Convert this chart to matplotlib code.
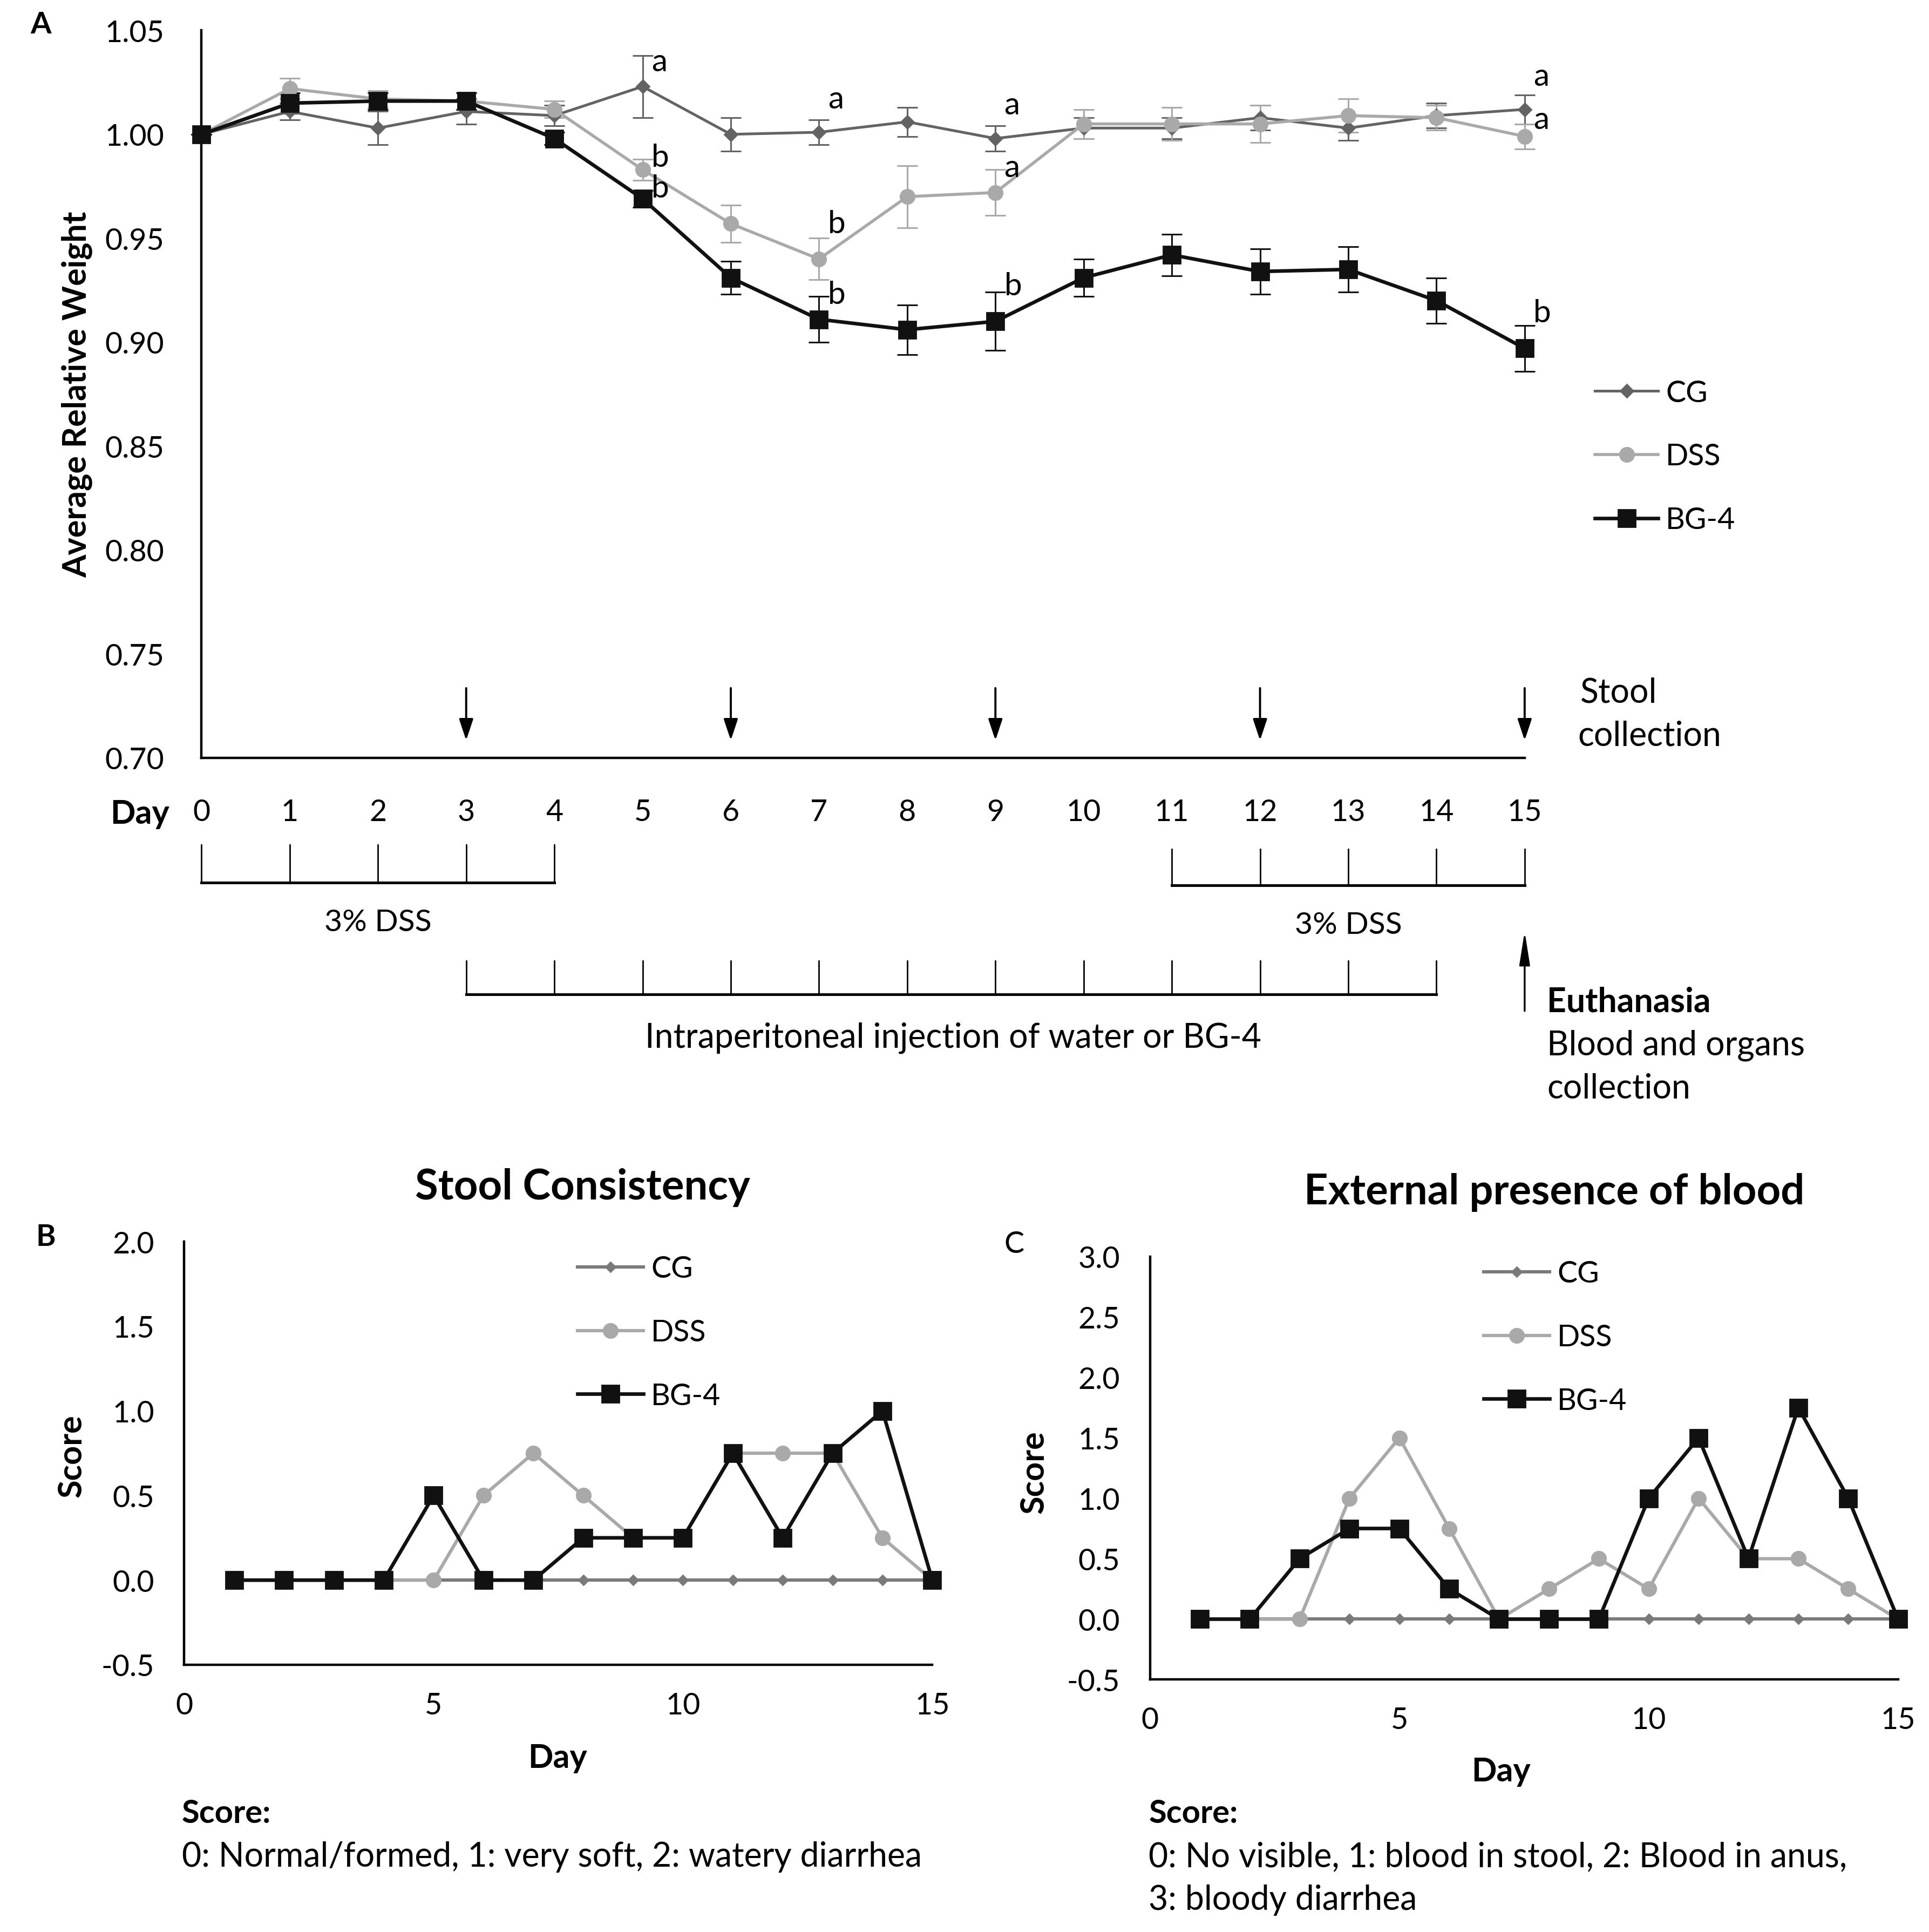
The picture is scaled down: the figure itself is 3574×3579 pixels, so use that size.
import matplotlib
matplotlib.use("Agg")
import matplotlib.pyplot as plt

plt.rcParams['font.family'] = ['Lato', 'DejaVu Sans']

# ---- panel A: average relative weight, days 0-15 ----
days_a = list(range(16))
cg_w = [1.000, 1.011, 1.003, 1.011, 1.009, 1.023, 1.000, 1.001, 1.006, 0.998, 1.003, 1.003, 1.008, 1.003, 1.009, 1.012]
cg_err = [0.0, 0.004, 0.008, 0.006, 0.005, 0.015, 0.008, 0.006, 0.007, 0.006, 0.005, 0.005, 0.006, 0.006, 0.006, 0.007]
dss_w = [1.000, 1.022, 1.017, 1.016, 1.012, 0.983, 0.957, 0.940, 0.970, 0.972, 1.005, 1.005, 1.005, 1.009, 1.008, 0.999]
dss_err = [0.0, 0.005, 0.004, 0.004, 0.004, 0.005, 0.009, 0.010, 0.015, 0.011, 0.007, 0.008, 0.009, 0.008, 0.006, 0.006]
bg4_w = [1.000, 1.015, 1.016, 1.016, 0.998, 0.969, 0.931, 0.911, 0.906, 0.910, 0.931, 0.942, 0.934, 0.935, 0.920, 0.897]
bg4_err = [0.0, 0.005, 0.004, 0.004, 0.003, 0.004, 0.008, 0.011, 0.012, 0.014, 0.009, 0.010, 0.011, 0.011, 0.011, 0.011]
# significance letters: (day, group, letter)
sig_days = [5, 5, 5, 7, 7, 7, 9, 9, 9, 15, 15, 15]
sig_groups = ["CG", "DSS", "BG-4"] * 4
sig_letters = ["a", "b", "b", "a", "b", "b", "a", "a", "b", "a", "a", "b"]
stool_days = [3, 6, 9, 12, 15]
dss_period1 = [0, 1, 2, 3, 4]
dss_period2 = [11, 12, 13, 14, 15]
inj_days = [3, 4, 5, 6, 7, 8, 9, 10, 11, 12, 13, 14]
euth_day = 15

# ---- panels B and C: scores, days 1-15 ----
days_bc = list(range(1, 16))
stool_cg = [0, 0, 0, 0, 0, 0, 0, 0, 0, 0, 0, 0, 0, 0, 0]
stool_dss = [0, 0, 0, 0, 0, 0.5, 0.75, 0.5, 0.25, 0.25, 0.75, 0.75, 0.75, 0.25, 0]
stool_bg4 = [0, 0, 0, 0, 0.5, 0, 0, 0.25, 0.25, 0.25, 0.75, 0.25, 0.75, 1.0, 0]
blood_cg = [0, 0, 0, 0, 0, 0, 0, 0, 0, 0, 0, 0, 0, 0, 0]
blood_dss = [0, 0, 0, 1.0, 1.5, 0.75, 0, 0.25, 0.5, 0.25, 1.0, 0.5, 0.5, 0.25, 0]
blood_bg4 = [0, 0, 0.5, 0.75, 0.75, 0.25, 0, 0, 0, 1.0, 1.5, 0.5, 1.75, 1.0, 0]

C_CG, C_DSS, C_BG = "#636363", "#a9a9a9", "#111111"
FS = 20      # ticks / legends
FA = 22.5    # annotation text

fig = plt.figure(figsize=(17.87, 17.90), dpi=200)
W, H = 1560.0, 1562.0
def fpos(x, y): return (x / W, 1 - y / H)
def rect(x0, y0, x1, y1): return [x0 / W, 1 - y1 / H, (x1 - x0) / W, (y1 - y0) / H]

def style(ax):
    for s in ("top", "right"): ax.spines[s].set_visible(False)
    for s in ("left", "bottom"): ax.spines[s].set_linewidth(1.6)
    ax.tick_params(length=0, labelsize=FS)

def ftext(x, y, s, **kw):
    kw.setdefault("ha", "left"); kw.setdefault("va", "center")
    fig.text(*fpos(x, y), s, **kw)

# ================= A =================
axA = fig.add_axes(rect(163, 25, 1233, 613))
style(axA)
axA.set_xlim(0, 15); axA.set_ylim(0.70, 1.05)
axA.set_yticks([0.70, 0.75, 0.80, 0.85, 0.90, 0.95, 1.00, 1.05])
axA.set_yticklabels([f"{v:.2f}" for v in axA.get_yticks()])
axA.tick_params(axis="y", pad=25)
axA.set_xticks(days_a); axA.tick_params(axis="x", pad=27)

series_a = {"CG": (cg_w, cg_err, C_CG, "D", 6, 1.8),
            "DSS": (dss_w, dss_err, C_DSS, "o", 9.5, 2.0),
            "BG-4": (bg4_w, bg4_err, C_BG, "s", 11.5, 2.4)}
handles = []
for name, (v, e, c, m, ms, lw) in series_a.items():
    eb = axA.errorbar(days_a, v, yerr=e, fmt="none", ecolor=c, elinewidth=1.1, capsize=7, capthick=1.1)
    for a in eb.get_children(): a.set_clip_on(False)
    ln, = axA.plot(days_a, v, color=c, marker=m, ms=ms, lw=lw, clip_on=False, zorder=3)
    handles.append(ln)
axA.legend(handles, list(series_a), loc="upper left", bbox_to_anchor=fpos(1290, 307),
           bbox_transform=fig.transFigure, frameon=False, fontsize=FS, handlelength=2.1,
           handletextpad=0.25, labelspacing=1.2, borderpad=0, borderaxespad=0, numpoints=1)

# letters sit just right of the upper error-bar cap (small extra lift where the original does)
lift = [-0.003, 0.001, 0.001, 0.010, 0.007, 0.001, 0.010, 0.001, 0.003, 0.009, 0.002, 0.006]
for d, g, letter, dy in zip(sig_days, sig_groups, sig_letters, lift):
    v, e = series_a[g][0][d], series_a[g][1][d]
    axA.text(d + 0.1, v + e + dy, letter, fontsize=21, va="center", ha="left")

for d in stool_days:
    axA.annotate("", xy=(d, 0.707), xytext=(d, 0.735), annotation_clip=False,
                 arrowprops=dict(arrowstyle="-|>,head_width=0.4,head_length=1.2", color="black",
                                 lw=1.4, mutation_scale=10))
ftext(1278, 560, "Stool", fontsize=FA)
ftext(1276, 595, "collection", fontsize=FA)
ftext(113, 658, "Day", fontsize=22, fontweight="bold", ha="center")

def bracket(days, top, bot):
    axA.plot([days[0], days[-1]], [bot, bot], color="black", lw=1.8, clip_on=False)
    for d in days:
        axA.plot([d, d], [top, bot], color="black", lw=1.0, clip_on=False)

bracket(dss_period1, 0.6583, 0.6399)
bracket(dss_period2, 0.6560, 0.6387)
bracket(inj_days, 0.6024, 0.5863)
axA.text(sum(dss_period1) / len(dss_period1), 0.6208, "3% DSS", fontsize=20.5, ha="center", va="center")
axA.text(sum(dss_period2[1:4]) / 3, 0.6196, "3% DSS", fontsize=20.5, ha="center", va="center")
axA.text(8.52, 0.5655, "Intraperitoneal injection of water or BG-4", fontsize=FA, ha="center", va="center")
axA.annotate("", xy=(euth_day, 0.6180), xytext=(euth_day, 0.5768), annotation_clip=False,
             arrowprops=dict(arrowstyle="-|>,head_width=0.3,head_length=1.9", color="black",
                             lw=1.2, mutation_scale=10))
ftext(1251, 810, "Euthanasia", fontsize=FA, fontweight="bold")
ftext(1251, 845, "Blood and organs", fontsize=FA)
ftext(1251, 880, "collection", fontsize=FA)

ftext(62, 319, "Average Relative Weight", rotation=90, fontsize=22, fontweight="bold", ha="center")
ftext(33, 20, "A", fontsize=20, fontweight="bold", ha="center")

# ================= B and C =================
def score_panel(r, ymax, cg, dss, bg4, leg_xy):
    ax = fig.add_axes(r)
    style(ax)
    ax.set_xlim(0, 15); ax.set_ylim(-0.5, ymax)
    ax.set_xticks([0, 5, 10, 15])
    yt = [-0.5 + 0.5 * i for i in range(int((ymax + 0.5) / 0.5) + 1)]
    ax.set_yticks(yt); ax.set_yticklabels([f"{v:.1f}" for v in yt])
    ax.tick_params(axis="y", pad=20); ax.tick_params(axis="x", pad=18)
    h1, = ax.plot(days_bc, cg, color="#7a7a7a", marker="D", ms=4.5, lw=2.2, clip_on=False)
    h2, = ax.plot(days_bc, dss, color=C_DSS, marker="o", ms=9.5, lw=2.2, clip_on=False)
    h3, = ax.plot(days_bc, bg4, color=C_BG, marker="s", ms=11.5, lw=2.4, clip_on=False)
    ax.legend([h1, h2, h3], ["CG", "DSS", "BG-4"], loc="upper left", bbox_to_anchor=fpos(*leg_xy),
              bbox_transform=fig.transFigure, frameon=False, fontsize=FS, handlelength=2.2,
              handletextpad=0.25, labelspacing=1.2, borderpad=0, borderaxespad=0, numpoints=1)
    return ax

score_panel(rect(149, 1004, 754, 1346), 2.0, stool_cg, stool_dss, stool_bg4, (467, 1015))
score_panel(rect(930, 1016, 1535, 1358), 3.0, blood_cg, blood_dss, blood_bg4, (1200, 1019))

ftext(471, 960, "Stool Consistency", fontsize=28, fontweight="bold", ha="center")
ftext(1257, 964, "External presence of blood", fontsize=28, fontweight="bold", ha="center")
ftext(37, 1000, "B", fontsize=20, fontweight="bold", ha="center")
ftext(820, 1006, "C", fontsize=20, ha="center")
ftext(58, 1177, "Score", rotation=90, fontsize=22, fontweight="bold", ha="center")
ftext(836, 1190, "Score", rotation=90, fontsize=22, fontweight="bold", ha="center")
ftext(451, 1421, "Day", fontsize=22, fontweight="bold", ha="center")
ftext(1214, 1432, "Day", fontsize=22, fontweight="bold", ha="center")
ftext(147, 1466, "Score:", fontsize=21.5, fontweight="bold")
ftext(147, 1501, "0: Normal/formed, 1: very soft, 2: watery diarrhea", fontsize=FA)
ftext(929, 1466, "Score:", fontsize=21.5, fontweight="bold")
ftext(929, 1501, "0: No visible, 1: blood in stool, 2: Blood in anus,", fontsize=FA)
ftext(929, 1536, "3: bloody diarrhea", fontsize=FA)

fig.savefig("out.png", dpi=200, facecolor="white")
